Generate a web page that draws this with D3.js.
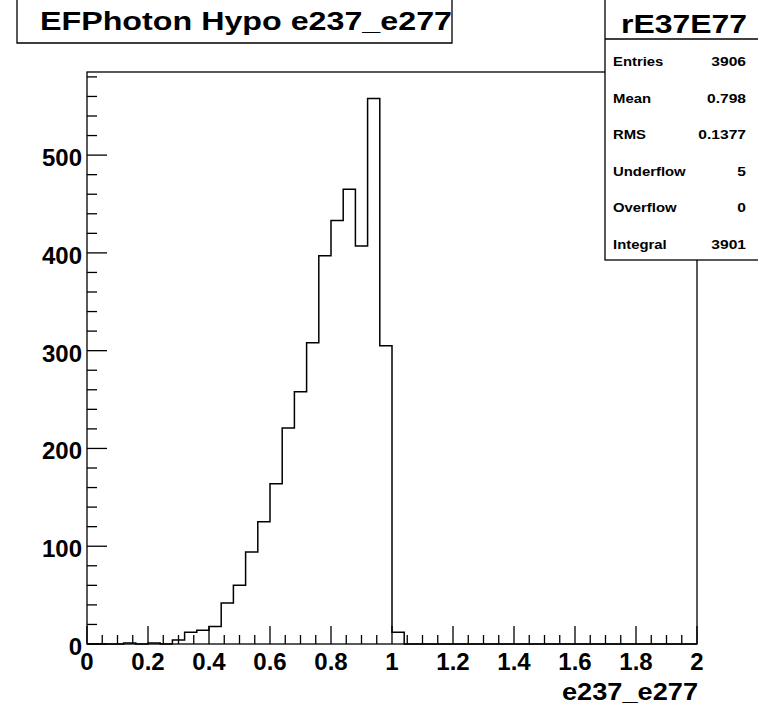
<!DOCTYPE html>
<html>
<head>
<meta charset="utf-8">
<script src="https://cdn.jsdelivr.net/npm/d3@7"></script>
<style>
  body { margin: 0; background: #fff; }
  svg text { font-family: "Liberation Sans", Arial, Helvetica, sans-serif; font-weight: bold; fill: #000; }
</style>
</head>
<body>
<div id="chart"></div>
<script>
// datos del histograma: 50 bins de 0.04 entre 0 y 2
const binEdges = d3.range(0, 50).map(i => i * 0.04);
const binCounts = [0, 0, 0, 1, 0, 1, 0, 4, 12, 14,
                   18, 42, 60, 94, 125, 164, 221, 258, 308, 397,
                   433, 465, 407, 558, 305, 12, 0, 0, 0, 0,
                   0, 0, 0, 0, 0, 0, 0, 0, 0, 0,
                   0, 0, 0, 0, 0, 0, 0, 0, 0, 0];
const xTickLabels = [0, 0.2, 0.4, 0.6, 0.8, 1, 1.2, 1.4, 1.6, 1.8, 2];
const yTickLabels = [0, 100, 200, 300, 400, 500];
const statNames = ["Entries", "Mean", "RMS", "Underflow", "Overflow", "Integral"];
const statValues = ["3906", "0.798", "0.1377", "5", "0", "3901"];
const histTitle = "EFPhoton Hypo e237_e277";
const statsTitle = "rE37E77";
const xTitle = "e237_e277";

const width = 758, height = 708;
const frame = {left: 87, right: 697, top: 72, bottom: 644};

const svg = d3.select("#chart").append("svg")
    .attr("width", width)
    .attr("height", height);

svg.append("rect").attr("width", width).attr("height", height).attr("fill", "#fff");

const x = d3.scaleLinear().domain([0, 2]).range([frame.left, frame.right]);
const y = d3.scaleLinear().domain([0, 585]).range([frame.bottom, frame.top]);

// marco
svg.append("rect")
    .attr("x", frame.left).attr("y", frame.top)
    .attr("width", frame.right - frame.left).attr("height", frame.bottom - frame.top)
    .attr("fill", "none").attr("stroke", "#000").attr("stroke-width", 1.3);

// ticks eje x
const xMinor = d3.range(0, 2.0001, 0.05);
svg.append("g").selectAll("line")
    .data(xMinor)
    .enter().append("line")
    .attr("x1", d => x(d)).attr("x2", d => x(d))
    .attr("y1", frame.bottom)
    .attr("y2", d => frame.bottom - (Math.abs(d / 0.2 - Math.round(d / 0.2)) < 1e-6 ? 18 : 9))
    .attr("stroke", "#000").attr("stroke-width", 1.3);

svg.append("g").selectAll("text")
    .data(xTickLabels)
    .enter().append("text")
    .attr("x", d => x(d)).attr("y", 670)
    .attr("text-anchor", "middle")
    .attr("font-size", 24)
    .text(d => d3.format("~g")(d));

// ticks eje y
const yMinor = d3.range(0, 581, 20);
svg.append("g").selectAll("line")
    .data(yMinor)
    .enter().append("line")
    .attr("x1", frame.left)
    .attr("x2", d => frame.left + (d % 100 === 0 ? 20 : 10))
    .attr("y1", d => y(d)).attr("y2", d => y(d))
    .attr("stroke", "#000").attr("stroke-width", 1.3);

svg.append("g").selectAll("text")
    .data(yTickLabels)
    .enter().append("text")
    .attr("x", 82).attr("y", d => y(d) + 11)
    .attr("text-anchor", "end")
    .attr("font-size", 24)
    .text(d => d);

// histograma
const pts = [[0, 0]].concat(binEdges.map((e, i) => [e, binCounts[i]]));
const line = d3.line()
    .x(d => x(d[0]))
    .y(d => y(d[1]))
    .curve(d3.curveStepAfter);
pts.push([2, 0]);
// el último tramo debe llegar a x=2 con el valor del último bin
pts.splice(pts.length - 1, 0, [2, binCounts[49]]);
svg.append("path")
    .attr("d", line(pts))
    .attr("fill", "none").attr("stroke", "#000").attr("stroke-width", 1.5);

// titulo eje x
svg.append("text")
    .attr("x", 562).attr("y", 700)
    .attr("font-size", 24)
    .attr("textLength", 136).attr("lengthAdjust", "spacingAndGlyphs")
    .text(xTitle);

// caja de titulo
svg.append("path")
    .attr("d", "M17,0 V43 H452 V0")
    .attr("fill", "none").attr("stroke", "#000").attr("stroke-width", 1.3);
svg.append("text")
    .attr("x", 40).attr("y", 30)
    .attr("font-size", 25)
    .attr("textLength", 412).attr("lengthAdjust", "spacingAndGlyphs")
    .text(histTitle);

// caja de estadisticas
svg.append("rect")
    .attr("x", 605).attr("y", -2).attr("width", 160).attr("height", 262)
    .attr("fill", "#fff").attr("stroke", "#000").attr("stroke-width", 1.3);
svg.append("line")
    .attr("x1", 605).attr("x2", 758).attr("y1", 39).attr("y2", 39)
    .attr("stroke", "#000").attr("stroke-width", 1.3);
svg.append("text")
    .attr("x", 621).attr("y", 33)
    .attr("font-size", 25)
    .attr("textLength", 126).attr("lengthAdjust", "spacingAndGlyphs")
    .text(statsTitle);

const rowY = d3.scalePoint().domain(statNames).range([66, 249]);
statNames.forEach((name, i) => {
    svg.append("text")
        .attr("transform", "translate(613," + rowY(name) + ") scale(1.24,1)")
        .attr("font-size", 12)
        .text(name);
    svg.append("text")
        .attr("transform", "translate(746," + rowY(name) + ") scale(1.3,1)")
        .attr("text-anchor", "end")
        .attr("font-size", 12)
        .text(statValues[i]);
});
</script>
</body>
</html>
